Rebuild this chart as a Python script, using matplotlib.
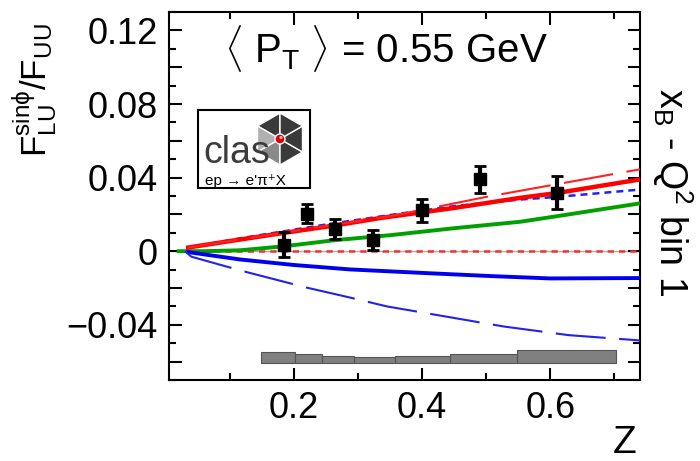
import numpy as np
import matplotlib
matplotlib.use("Agg")
import matplotlib.pyplot as plt
from matplotlib.ticker import MultipleLocator, FuncFormatter
from matplotlib.patches import Polygon, Circle

plt.rcParams["font.family"] = ["Liberation Sans", "DejaVu Sans"]
plt.rcParams["mathtext.fontset"] = "custom"
plt.rcParams["mathtext.rm"] = "Liberation Sans"
plt.rcParams["mathtext.it"] = "Liberation Sans"
plt.rcParams["mathtext.bf"] = "Liberation Sans:bold"

# data points (black squares)
z_data = [0.185, 0.221, 0.264, 0.323, 0.400, 0.491, 0.610]
a_data = [0.0036, 0.0204, 0.0121, 0.0059, 0.0222, 0.0391, 0.0319]
a_err = [0.0068, 0.0050, 0.0055, 0.0054, 0.0063, 0.0074, 0.0092]

# systematic error band (gray bars)
sys_edges = [0.148, 0.202, 0.243, 0.294, 0.358, 0.443, 0.548, 0.702]
sys_err = [0.0060, 0.0051, 0.0040, 0.0036, 0.0038, 0.0054, 0.0072]
sys_base = -0.061

# model curves
red_solid_z = [0.035, 0.1, 0.185, 0.264, 0.334, 0.45, 0.553, 0.61, 0.74]
red_solid = [0.002, 0.0055, 0.010, 0.014, 0.018, 0.0235, 0.029, 0.0316, 0.039]

red_dash_z = [0.035, 0.2, 0.35, 0.5, 0.61, 0.74]
red_dash = [0.002, 0.011, 0.019, 0.0295, 0.0364, 0.0445]

blue_sd_z = [0.035, 0.116, 0.25, 0.353, 0.45, 0.55, 0.61, 0.74]
blue_sd = [0.002, 0.007, 0.0145, 0.0198, 0.0245, 0.028, 0.0295, 0.0335]

green_z = [0.02, 0.06, 0.116, 0.185, 0.264, 0.35, 0.45, 0.553, 0.61, 0.74]
green = [0.0, 0.0, 0.0005, 0.0027, 0.006, 0.0087, 0.0125, 0.016, 0.019, 0.026]

blue_solid_z = [0.035, 0.116, 0.2, 0.2875, 0.4, 0.506, 0.6, 0.74]
blue_solid = [-0.0005, -0.0045, -0.0075, -0.0099, -0.0118, -0.0135, -0.0148, -0.0146]

blue_ld_z = [0.03, 0.04, 0.12, 0.22, 0.2875, 0.345, 0.425, 0.527, 0.628, 0.74]
blue_ld = [0.0, -0.003, -0.0108, -0.0198, -0.0252, -0.030, -0.0348, -0.0409, -0.0456, -0.0485]

red_zero_z = [0.04, 0.74]
red_zero = [0.0, 0.0]


def yfmt(v, pos):
    if abs(v) < 1e-9:
        return "0"
    if abs(round(v / 0.04) * 0.04 - v) > 1e-6:
        return ""
    return ("%.2f" % v).replace("-", "\u2212")


fig = plt.figure(figsize=(7, 4.61), dpi=100)
ax = fig.add_axes([169 / 700, 1 - 380 / 461, 471 / 700, 368 / 461])

# systematic bars
for i in range(len(sys_err)):
    ax.bar(sys_edges[i], sys_err[i], width=sys_edges[i + 1] - sys_edges[i], bottom=sys_base,
           align="edge", color="#808080", edgecolor="#555555", linewidth=0.8, zorder=1)

ax.axhline(0, color="#aaaaaa", lw=1, zorder=1)
l, = ax.plot(red_zero_z, red_zero, color="#ee3333", lw=1.8, zorder=2)
l.set_dashes((2.5, 2))
ax.plot(green_z, green, color="#00a000", lw=2.8, zorder=3)
ax.plot(blue_solid_z, blue_solid, color="#0000ee", lw=2.8, zorder=3)
l, = ax.plot(blue_ld_z, blue_ld, color="#2222ee", lw=1.5, zorder=3)
l.set_dashes((24, 6.5))
l, = ax.plot(blue_sd_z, blue_sd, color="#2222ee", lw=1.8, zorder=4)
l.set_dashes((2.8, 2))
ax.plot(red_solid_z, red_solid, color="#ff0000", lw=3.2, zorder=5)
l, = ax.plot(red_dash_z, red_dash, color="#ff2222", lw=1.5, zorder=5)
l.set_dashes((24, 6.5))

ax.errorbar(z_data, a_data, yerr=a_err, fmt="s", color="black", ms=9,
            elinewidth=3, capsize=4, capthick=2, zorder=6)

ax.set_xlim(0.005, 0.74)
ax.set_ylim(-0.07, 0.13)
ax.xaxis.set_major_locator(MultipleLocator(0.2))
ax.xaxis.set_minor_locator(MultipleLocator(0.1))
ax.yaxis.set_major_locator(MultipleLocator(0.02))
ax.yaxis.set_minor_locator(MultipleLocator(0.01))
ax.yaxis.set_major_formatter(FuncFormatter(yfmt))
ax.xaxis.set_major_formatter(FuncFormatter(lambda v, p: "%.1f" % v))
ax.tick_params(which="both", direction="in", top=True, right=True, width=1.5, labelsize=26)
ax.tick_params(which="major", length=9, pad=8)
ax.tick_params(which="minor", length=5)
for s in ax.spines.values():
    s.set_linewidth(1.5)

ax.text(0.117, 0.861, r"$\langle\ \mathrm{P}_{\mathrm{T}}\ \rangle$ = 0.55 GeV",
        transform=ax.transAxes, fontsize=29, ha="left", va="baseline")

fig.text(35 / 700, 1 - 90 / 461, r"$\mathrm{F}^{\mathrm{sin}\phi}_{\mathrm{LU}}/\mathrm{F}_{\mathrm{UU}}$",
         rotation=90, ha="center", va="center", fontsize=25)
fig.text(672 / 700, 1 - 192 / 461, r"$\mathrm{x}_{\mathrm{B}}$ - $\mathrm{Q}^2$ bin 1",
         rotation=270, ha="center", va="center", fontsize=27)
fig.text(625 / 700, 8 / 461, "Z", ha="center", va="baseline", fontsize=28)

# CLAS logo box
lg = fig.add_axes([198 / 700, 1 - 188 / 461, 112 / 700, 78 / 461])
lg.set_xlim(0, 112)
lg.set_ylim(0, 78)
lg.set_xticks([])
lg.set_yticks([])
for s in lg.spines.values():
    s.set_linewidth(1.5)
cx, cy, r = 82, 49, 26
ang = np.radians([90, 150, 210, 270, 330, 30, 90])
hx = cx + r * np.cos(ang)
hy = cy + r * np.sin(ang)
tri_colors = ["#3a3a3a", "#b0b0b0", "#8a8a8a", "#3a3a3a", "#3a3a3a", "#3a3a3a"]
for i in range(6):
    lg.add_patch(Polygon([[cx, cy], [hx[i], hy[i]], [hx[i + 1], hy[i + 1]]],
                         closed=True, facecolor=tri_colors[i], edgecolor="white", lw=1))
lg.text(5, 25, "clas", fontsize=27, color="#3c3c3c", ha="left", va="baseline", zorder=3)
lg.add_patch(Circle((cx, cy), 5, facecolor="#dd0000", edgecolor="white", lw=1, zorder=4))
lg.add_patch(Circle((cx + 1, cy + 1.5), 1.6, facecolor="#ffbbbb", edgecolor="none", zorder=5))
lg.text(7, 3, "ep \u2192 e'\u03c0\u207aX", fontsize=11, ha="left", va="baseline")

fig.savefig("out.png", dpi=100)
